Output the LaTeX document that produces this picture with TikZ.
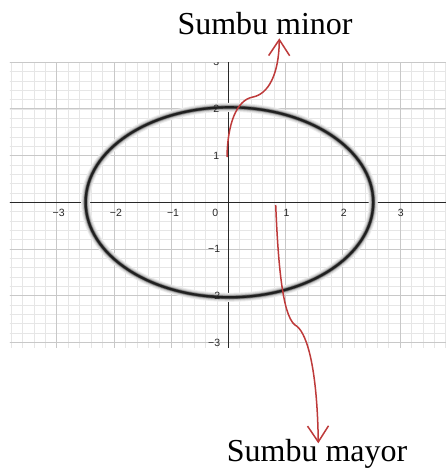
\documentclass[tikz,border=0pt]{standalone}
\usepackage{fontspec}
\setmainfont{Liberation Serif}
\newfontfamily\ticksfont{Liberation Sans}
\usetikzlibrary{arrows.meta,calc}
\definecolor{arrowred}{RGB}{190,58,58}
\definecolor{minorgrid}{RGB}{230,230,230}
\definecolor{majorgrid}{RGB}{200,200,200}
\definecolor{axiscol}{RGB}{40,40,40}
\tikzset{
  minorline/.style={draw=minorgrid, line width=0.5pt},
  majorline/.style={draw=majorgrid, line width=0.8pt},
  axisline/.style={draw=axiscol, line width=1pt},
  ticklabel/.style={font=\ticksfont\fontsize{10.5}{12}\selectfont, text=axiscol, inner sep=0pt},
  pointer/.style={draw=arrowred, line width=1.5pt, -{Straight Barb[length=16pt,width=21pt]}},
  caption/.style={font=\fontsize{32}{38}\selectfont, inner sep=0pt}
}
\begin{document}
\begin{tikzpicture}[x=1pt,y=-1pt]
\useasboundingbox (0,0) rectangle (446,468);
\fill[white] (0,0) rectangle (446,468);
% graph
\begin{scope}[shift={(228.3,202.3)}, x=57.2pt, y=46.7pt]
  \clip (-3.82,-3.1) rectangle (3.81,3.0);
  \foreach \i in {-19,...,19} {
    \path[minorline] (\i/5,-3.2) -- (\i/5,3.1);
  }
  \foreach \j in {-16,...,15} {
    \path[minorline] (-3.9,\j/5) -- (3.9,\j/5);
  }
  \foreach \i in {-3,...,3} {
    \path[majorline] (\i,-3.2) -- (\i,3.1);
    \path[majorline] (-3.9,\i) -- (3.9,\i);
  }
  \path[axisline] (-3.9,0) -- (3.9,0);
  \path[axisline] (0,-3.2) -- (0,3.1);
  \draw[black!7, line width=9pt] (0.02,0) ellipse [x radius=143.8pt, y radius=95pt];
  \draw[black!16, line width=7pt] (0.02,0) ellipse [x radius=143.8pt, y radius=95pt];
  \draw[black!30, line width=5pt] (0.02,0) ellipse [x radius=143.8pt, y radius=95pt];
  \draw[black!60, line width=3.4pt] (0.02,0) ellipse [x radius=143.8pt, y radius=95pt];
  \draw[black!88, line width=2.2pt] (0.02,0) ellipse [x radius=143.8pt, y radius=95pt];
  \foreach \i in {-3,-2,-1} {
    \node[ticklabel] (xl\i) at ($(\i,0)+(2pt,-11pt)$) {−\the\numexpr-\i\relax};
  }
  \foreach \i in {1,2,3} {
    \node[ticklabel] (xl\i) at ($(\i,0)+(1pt,-11pt)$) {\i};
  }
  \node[ticklabel] (xl0) at ($(0,0)+(-13pt,-11pt)$) {0};
  \foreach \i in {1,2,3} {
    \node[ticklabel, anchor=east] (yl\i) at ($(0,\i)+(-9pt,0)$) {\i};
  }
  \foreach \i in {-3,-2,-1} {
    \node[ticklabel, anchor=east] (yl\i) at ($(0,\i)+(-8pt,0)$) {−\the\numexpr-\i\relax};
  }
\end{scope}
% captions
\node[caption, anchor=base west] (minor) at (177.3,35) {Sumbu minor};
\node[caption, anchor=base west] (mayor) at (226.7,461.7) {Sumbu mayor};
% pointers
\coordinate (minorstart) at (227,157);
\coordinate (minorkink) at (253,97);
\coordinate (minortip) at (279.3,38.3);
\coordinate (mayorstart) at (275.7,205);
\coordinate (mayorkink) at (295,325);
\coordinate (mayortip) at (318.3,443.3);
\draw[pointer] (minorstart) .. controls (227.5,125) and (236,100) .. (minorkink)
  .. controls (268,94) and (279,75) .. (minortip);
\draw[pointer] (mayorstart) .. controls (278,260) and (282,315) .. (mayorkink)
  .. controls (305,330) and (317,360) .. (mayortip);
\end{tikzpicture}
\end{document}
